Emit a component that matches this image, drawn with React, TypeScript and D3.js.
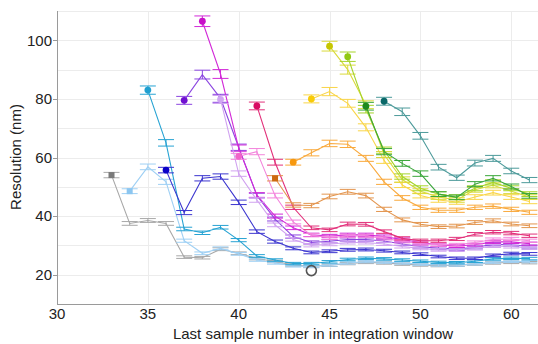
import React from 'react'
import { scaleLinear, line } from 'd3'

// x tick positions and the labels printed under them (the figure labels its last tick "60")
const xTickValues = [30, 35, 40, 45, 50, 55]
const xTickLabels = ['30', '35', '40', '45', '50', '60']
const yTickValues = [20, 40, 60, 80, 100]
const yGridValues = [20, 30, 40, 50, 60, 70, 80, 90, 100, 110]

// relative size of the error bars
const RELATIVE_ERROR = 0.017

// each series starts at `start` and has one value per sample up to 56
const grayValues = [54, 37.5, 38.5, 37.5, 26, 25.8, 28.7, 27.3, 25.5, 24.5, 23.3, 22.8, 23.2, 23.8, 24.2, 24, 23.6, 23.3, 23.1, 23.2, 23.6, 24, 24.2, 24.1]
const lightBlueValues = [48.5, 56.8, 51.7, 31.6, 27.3, 29, 27.1, 25, 24, 23, 22.8, 23.3, 24, 24.5, 24.3, 24, 23.6, 23.3, 23.3, 23.7, 24.3, 24.6, 24.5]
const cyanValues = [83, 65, 35.6, 34.3, 36.2, 31.8, 26.4, 25, 23.8, 23.8, 24.4, 25.2, 25.6, 25.4, 25, 24.6, 24.2, 24.1, 24.6, 25.4, 25.6, 25.5]
const darkBlueValues = [55.7, 41.2, 52.9, 53.5, 44.7, 34.7, 31.3, 29, 27.6, 28, 28.5, 28.6, 28.2, 27.6, 27, 26.2, 25.6, 25.6, 26.6, 27.2, 27.1]
const violetValues = [79.5, 88.3, 80.2, 63.5, 47, 39, 33, 31, 31.4, 32, 32, 31.5, 30.5, 29.6, 29, 28.8, 29.3, 30.4, 30.2, 29.6]
const magentaValues = [106.5, 88.5, 63.2, 47.2, 40, 36, 33.6, 33.2, 33.6, 33.6, 33, 32, 31, 30.2, 29.8, 30.2, 31.2, 31.2, 30.6]
const lavenderValues = [79.8, 54.5, 45.5, 37, 32, 30, 30.4, 31, 31, 30.5, 29.6, 29, 28.5, 28.4, 28.9, 29.8, 29.6, 29.1]
const pinkValues = [60.4, 62, 47, 38, 33.5, 32.6, 33.2, 33.2, 32.4, 31.4, 30.6, 30.2, 30.2, 31, 32, 32.2, 31.6]
const crimsonValues = [77.6, 58.4, 43, 36, 35.3, 37.3, 37.2, 34.7, 32.4, 31.6, 31.6, 32.2, 33.8, 34.5, 34.2, 33.3]
const brownValues = [52.9, 43.8, 43.6, 46.7, 48.3, 47, 42.3, 38.7, 37.2, 36.4, 36.6, 37.8, 38.4, 37.3, 36.7]
const orangeValues = [58.4, 61.6, 64.8, 64.5, 59.7, 51.7, 46.2, 43, 42, 42, 43, 43.4, 42.3, 41.3]
const goldValues = [80, 82.5, 78.5, 70.3, 59, 50.6, 47, 45.5, 44.8, 46.5, 48, 46.5, 45]
const oliveValues = [98, 90, 78, 61, 52.5, 48.5, 46.5, 45.5, 49, 50.5, 48.5, 46.5]
const limeValues = [94.4, 76.5, 62.5, 53.5, 49.5, 47.5, 46.5, 49.5, 51.5, 49.5, 47.5]
const greenValues = [77.5, 62, 58, 54.5, 47.5, 46.4, 50.9, 52.9, 50.1, 46.9]
const tealValues = [79.2, 75.6, 67.4, 56.7, 53.1, 58.1, 59.7, 55.4, 52.3]

// the sample marked with an open circle
const bestSample = { x: 44, y: 21.4 }

const series = [
  { name: 'gray', start: 33, values: grayValues, color: '#a8a8a8', marker: '#7a7a7a', shape: 'square' },
  { name: 'lightblue', start: 34, values: lightBlueValues, color: '#9fd0f4', marker: '#8cc6f0', shape: 'square' },
  { name: 'cyan', start: 35, values: cyanValues, color: '#27a3d3', marker: '#1f9fd0', shape: 'circle' },
  { name: 'darkblue', start: 36, values: darkBlueValues, color: '#3b35cf', marker: '#0a00c8', shape: 'circle' },
  { name: 'violet', start: 37, values: violetValues, color: '#8b45e0', marker: '#7010d0', shape: 'circle' },
  { name: 'magenta', start: 38, values: magentaValues, color: '#d22ad8', marker: '#c810c8', shape: 'circle' },
  { name: 'lavender', start: 39, values: lavenderValues, color: '#d0a2f0', marker: '#d0a6f2', shape: 'circle' },
  { name: 'pink', start: 40, values: pinkValues, color: '#f384dc', marker: '#f064c8', shape: 'circle' },
  { name: 'crimson', start: 41, values: crimsonValues, color: '#e2307a', marker: '#d80a62', shape: 'circle' },
  { name: 'brown', start: 42, values: brownValues, color: '#e3954e', marker: '#cc6a10', shape: 'square' },
  { name: 'orange', start: 43, values: orangeValues, color: '#f9a93c', marker: '#f7980e', shape: 'circle' },
  { name: 'gold', start: 44, values: goldValues, color: '#f9d548', marker: '#f8cb08', shape: 'circle' },
  { name: 'olive', start: 45, values: oliveValues, color: '#d9da3a', marker: '#c6c600', shape: 'circle' },
  { name: 'lime', start: 46, values: limeValues, color: '#a6d42a', marker: '#90c812', shape: 'circle' },
  { name: 'green', start: 47, values: greenValues, color: '#3aa63a', marker: '#1e8a1e', shape: 'circle' },
  { name: 'teal', start: 48, values: tealValues, color: '#4c9a9a', marker: '#0a6868', shape: 'circle' },
]

const width = 538
const height = 344
const left = 57
const top = 11
const bottom = 304

export default function App() {
  const x = scaleLinear().domain([30, 56.5]).range([left, width + 0.5])
  const y = scaleLinear().domain([10, 110]).range([bottom, top])
  const path = line<number>()
  const font = '"Liberation Sans", Arial, Helvetica, sans-serif'
  const cap = 8

  return (
    <svg width={width} height={height} style={{ position: 'absolute', left: 0, top: 0, background: '#fff' }} fontFamily={font}>
      {/* grid */}
      <g stroke="#ececec" strokeWidth={1}>
        {yGridValues.map(v => (
          <line key={'gy' + v} x1={left} x2={width} y1={Math.round(y(v)) + 0.5} y2={Math.round(y(v)) + 0.5} />
        ))}
        {xTickValues.slice(1).map(v => (
          <line key={'gx' + v} x1={Math.round(x(v)) + 0.5} x2={Math.round(x(v)) + 0.5} y1={top} y2={bottom} />
        ))}
      </g>
      {/* axes */}
      <g stroke="#9a9a9a" strokeWidth={1}>
        <line x1={left + 0.5} x2={left + 0.5} y1={top} y2={bottom} />
        <line x1={left} x2={width} y1={bottom + 0.5} y2={bottom + 0.5} />
        {yTickValues.map(v => (
          <line key={'ty' + v} x1={left - 4} x2={left} y1={Math.round(y(v)) + 0.5} y2={Math.round(y(v)) + 0.5} />
        ))}
      </g>
      <g fontSize={15} fill="#222">
        {yTickValues.map(v => (
          <text key={'ly' + v} x={52} y={y(v)} dy="0.35em" textAnchor="end">
            {v}
          </text>
        ))}
        {xTickValues.map((v, i) => (
          <text key={'lx' + v} x={x(v)} y={319} textAnchor="middle">
            {xTickLabels[i]}
          </text>
        ))}
        <text x={313} y={339} textAnchor="middle">
          Last sample number in integration window
        </text>
        <text transform="translate(21, 157) rotate(-90)" textAnchor="middle">
          Resolution (nm)
        </text>
      </g>
      {/* series */}
      {series.map(s => {
        const pts = s.values.map((v, i) => [x(s.start + i), y(v)] as [number, number])
        return (
          <g key={s.name}>
            <path d={path(pts) || ''} fill="none" stroke={s.color} strokeWidth={1.1} />
            <g stroke={s.color} strokeWidth={1}>
              {s.values.map((v, i) => {
                const cx = x(s.start + i)
                const e = v * RELATIVE_ERROR
                const y0 = y(v - e)
                const y1 = y(v + e)
                return (
                  <g key={i}>
                    <line x1={cx} x2={cx} y1={y0} y2={y1} />
                    <line x1={cx - cap} x2={cx + cap} y1={y0} y2={y0} />
                    <line x1={cx - cap} x2={cx + cap} y1={y1} y2={y1} />
                  </g>
                )
              })}
            </g>
            {s.shape === 'square' ? (
              <rect x={pts[0][0] - 3} y={pts[0][1] - 3} width={6} height={6} fill={s.marker} />
            ) : (
              <circle cx={pts[0][0]} cy={pts[0][1]} r={3.4} fill={s.marker} />
            )}
          </g>
        )
      })}
      <circle cx={x(bestSample.x)} cy={y(bestSample.y)} r={5} fill="none" stroke="#555" strokeWidth={1.6} />
    </svg>
  )
}
